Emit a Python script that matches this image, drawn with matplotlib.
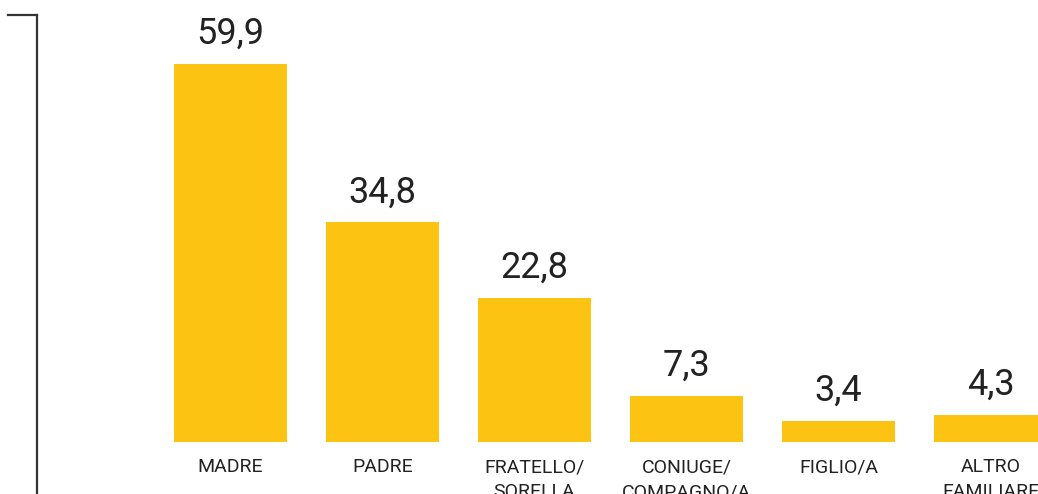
import matplotlib
matplotlib.use("Agg")
import matplotlib.pyplot as plt
import numpy as np

categories = ["MADRE", "PADRE", "FRATELLO/\nSORELLA", "CONIUGE/\nCOMPAGNO/A",
              "FIGLIO/A", "ALTRO\nFAMILIARE"]
values = [59.9, 34.8, 22.8, 7.3, 3.4, 4.3]
value_labels = ["59,9", "34,8", "22,8", "7,3", "3,4", "4,3"]

bar_color = "#FDC313"
text_color = "#222222"
plt.rcParams['font.family'] = ['Roboto', 'DejaVu Sans']

W, H = 1038, 494
fig = plt.figure(figsize=(W / 100, H / 100), dpi=100)
ax = fig.add_axes([0, 0, 1, 1])

# pixel layout: bar centres at 230.5 + 152*i, baseline at y=442, 6.31 px per unit
step = 152.0
x0 = 230.5
scale = 6.31
ax.set_xlim(-x0 / step, (W - x0) / step)
ax.set_ylim(-(H - 442) / scale, 442 / scale)
ax.axis("off")

x = np.arange(len(categories))
ax.bar(x, values, width=113 / step, color=bar_color, zorder=2)

for i, v in enumerate(values):
    ax.annotate(value_labels[i], xy=(i, v), xytext=(0, 20 * 0.72),
                textcoords="offset points", ha="center", va="baseline",
                fontsize=26, color=text_color)
    ax.annotate(categories[i], xy=(i, 0), xytext=(0, -16 * 0.72),
                textcoords="offset points", ha="center", va="top",
                fontsize=14, color=text_color, linespacing=1.5,
                annotation_clip=False)

# left bracket line
ax.plot([37 / W, 37 / W], [0, 1 - 15 / H], transform=ax.transAxes,
        color="#333333", lw=1.6, clip_on=False)
ax.plot([8 / W, 37 / W], [1 - 15 / H, 1 - 15 / H], transform=ax.transAxes,
        color="#333333", lw=1.6, clip_on=False, solid_capstyle="projecting")

fig.savefig("out.png", dpi=100)
